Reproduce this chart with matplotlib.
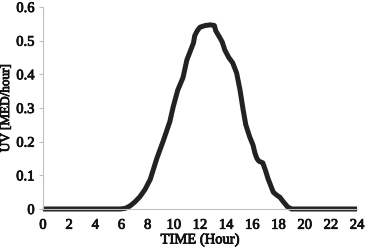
import numpy as np
import matplotlib.pyplot as plt
import matplotlib.patheffects as pe

# hourly UV index
hours = [0, 2, 4, 5.9, 6.3, 6.65, 7.0, 7.4, 7.8, 8.2, 8.7, 9.2, 9.7, 9.95,
         10.3, 10.7, 11.0, 11.5, 11.6, 11.8, 12.0, 12.4, 12.8, 13.1, 13.2,
         13.3, 13.5, 13.7, 13.9, 14.2, 14.5, 14.8, 15.06, 15.3, 15.5, 15.8,
         16.05, 16.2, 16.35, 16.5, 16.8, 17.0, 17.2, 17.4, 17.6, 17.9, 18.1,
         18.4, 18.7, 19.0, 20, 22, 24]
uv = [0, 0, 0, 0, 0.002, 0.009, 0.02, 0.036, 0.058, 0.088, 0.15, 0.203, 0.26,
      0.303, 0.353, 0.39, 0.443, 0.493, 0.515, 0.53, 0.54, 0.545, 0.547, 0.545,
      0.53, 0.523, 0.51, 0.496, 0.472, 0.45, 0.434, 0.404, 0.353, 0.294, 0.25,
      0.214, 0.19, 0.166, 0.15, 0.142, 0.137, 0.115, 0.09, 0.07, 0.05, 0.04,
      0.035, 0.02, 0.006, 0, 0, 0, 0]

plt.rcParams['font.family'] = ['Liberation Serif', 'DejaVu Serif']
plt.rcParams['font.size'] = 10.5

thick = [pe.withStroke(linewidth=0.6, foreground='#111111')]

fig = plt.figure(figsize=(3.7, 2.5), dpi=100)
ax = fig.add_axes([0.116, 0.164, 0.849, 0.808])
ax.plot(hours, uv, color='#222222', lw=3.6, solid_joinstyle='round', solid_capstyle='butt')

ax.set_xlim(0, 24)
ax.set_ylim(0, 0.6)
ax.set_xticks(range(0, 25, 2))
ax.set_yticks([0, 0.1, 0.2, 0.3, 0.4, 0.5, 0.6])
ax.set_yticklabels(['0', '0.1', '0.2', '0.3', '0.4', '0.5', '0.6'])
ax.set_xlabel('TIME (Hour)', labelpad=1, color='#111111', path_effects=thick)
ax.set_ylabel('UV [MED/hour]', labelpad=3, fontsize=9.5, color='#111111', path_effects=thick)

for s in ['top', 'right']:
    ax.spines[s].set_visible(False)
for s in ['left', 'bottom']:
    ax.spines[s].set_color('#bfbfbf')
    ax.spines[s].set_linewidth(0.8)
ax.tick_params(axis='x', length=0, pad=7)
ax.tick_params(axis='y', length=3, color='#bfbfbf', pad=3)
for t in ax.get_xticklabels() + ax.get_yticklabels():
    t.set_color('#111111')
    t.set_path_effects(thick)
for line in ax.get_lines():
    line.set_clip_on(False)

fig.savefig('out.png', dpi=100)
